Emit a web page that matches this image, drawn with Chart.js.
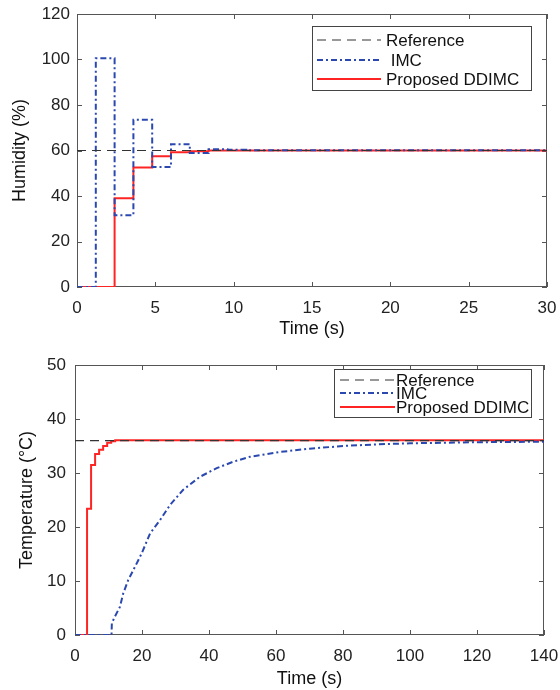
<!DOCTYPE html>
<html>
<head>
<meta charset="utf-8">
<script src="https://cdn.jsdelivr.net/npm/chart.js@4/dist/chart.umd.min.js"></script>
<style>
  body { margin: 0; background: #fff; width: 560px; height: 690px; overflow: hidden; }
  canvas { position: absolute; left: 0; }
</style>
</head>
<body>
<canvas id="hum" width="560" height="340" style="top:0"></canvas>
<canvas id="temp" width="560" height="350" style="top:340px"></canvas>
<script>
// humidity chart (top)
var humNames = ['Reference', ' IMC', 'Proposed DDIMC'];
var humRefTime = [0, 30];
var humRef = [60, 60];
var humImcTime = [0, 1.2, 2.4, 3.6, 4.8, 6.0, 7.2, 8.4, 9.6, 10.8, 30];
var humImc = [0, 100.5, 31.5, 73.5, 52.7, 62.8, 58.9, 60.5, 60.3, 60.1, 60.1];
var humDdTime = [0, 2.4, 3.6, 4.8, 6.0, 7.2, 8.4, 30];
var humDd = [0, 39, 52.5, 57.5, 59.2, 59.7, 60, 60];

// temperature chart (bottom)
var tempNames = ['Reference', 'IMC', 'Proposed DDIMC'];
var tempRefTime = [0, 140];
var tempRef = [36, 36];
var tempImcTime = [0, 10.9, 11.0, 11.9, 13.4, 14.4, 15.9, 17.4, 19.9, 22.4, 25.4, 28.4, 32.3, 37.3, 42.3, 47.3, 52.2, 61.2, 70, 80, 90, 100, 110, 120, 130, 140];
var tempImc = [0, 0, 2.2, 3.4, 5.2, 7.7, 10.2, 12.0, 15.1, 18.8, 21.3, 24.1, 26.9, 29.3, 30.9, 32.1, 33.0, 33.9, 34.5, 35.0, 35.3, 35.5, 35.6, 35.7, 35.75, 35.8];
var tempDdTime = [0, 3.6, 4.8, 6.0, 7.2, 8.4, 9.6, 10.8, 12, 140];
var tempDd = [0, 23.4, 31.5, 33.5, 34.3, 35.0, 35.6, 35.9, 36.05, 36.05];

function pts(xs, ys) {
  return xs.map(function (x, i) { return { x: x, y: ys[i] }; });
}

// matlab-like box with inward ticks on all sides
var frame = {
  id: 'frame',
  beforeDatasetsDraw: function (chart) {
    var a = chart.chartArea, ctx = chart.ctx;
    ctx.save();
    ctx.strokeStyle = '#555';
    ctx.lineWidth = 1;
    ctx.strokeRect(a.left + 0.5, a.top + 0.5, a.right - a.left - 1, a.bottom - a.top - 1);
    ctx.beginPath();
    chart.scales.x.ticks.forEach(function (t) {
      var px = Math.round(chart.scales.x.getPixelForValue(t.value)) + 0.5;
      ctx.moveTo(px, a.bottom); ctx.lineTo(px, a.bottom - 5);
      ctx.moveTo(px, a.top); ctx.lineTo(px, a.top + 5);
    });
    chart.scales.y.ticks.forEach(function (t) {
      var py = Math.round(chart.scales.y.getPixelForValue(t.value)) + 0.5;
      ctx.moveTo(a.left, py); ctx.lineTo(a.left + 5, py);
      ctx.moveTo(a.right, py); ctx.lineTo(a.right - 5, py);
    });
    ctx.stroke();
    ctx.restore();
  }
};

var boxLegend = {
  id: 'boxLegend',
  afterDraw: function (chart, args, o) {
    var a = chart.chartArea, ctx = chart.ctx;
    var bx = a.right - o.dx - o.w, by = a.top + o.dy;
    ctx.save();
    ctx.fillStyle = '#fff';
    ctx.fillRect(bx, by, o.w, o.h);
    ctx.strokeStyle = '#444';
    ctx.lineWidth = 1;
    ctx.strokeRect(bx + 0.5, by + 0.5, o.w, o.h);
    ctx.font = '17px "Liberation Sans", Arial, sans-serif';
    ctx.textBaseline = 'middle';
    chart.data.datasets.forEach(function (ds, i) {
      var y = by + o.rows[i];
      ctx.strokeStyle = ds.borderColor;
      ctx.lineWidth = ds.borderWidth;
      ctx.setLineDash(ds.borderDash || []);
      ctx.beginPath();
      ctx.moveTo(bx + o.lineX, y);
      ctx.lineTo(bx + o.lineX + o.lineLen, y);
      ctx.stroke();
      ctx.setLineDash([]);
      ctx.fillStyle = '#111';
      ctx.fillText(ds.label, bx + o.textX, y + 1);
    });
    ctx.restore();
  }
};

function makeChart(id, cfg) {
  var tickFont = { family: '"Liberation Sans", Arial, sans-serif', size: 17 };
  var titleFont = { family: '"Liberation Sans", Arial, sans-serif', size: 18 };
  return new Chart(id, {
    type: 'line',
    data: {
      datasets: [
        { label: cfg.names[0], data: pts(cfg.refT, cfg.ref), borderColor: '#333', borderWidth: 1.2, borderDash: [9, 6], pointRadius: 0 },
        { label: cfg.names[1], data: pts(cfg.imcT, cfg.imc), borderColor: '#2a48b0', borderWidth: 2, borderDash: [6, 3, 2, 3], pointRadius: 0, stepped: cfg.stepImc },
        { label: cfg.names[2], data: pts(cfg.ddT, cfg.dd), borderColor: '#ff2424', borderWidth: 2, pointRadius: 0, stepped: true }
      ]
    },
    options: {
      responsive: false,
      animation: false,
      devicePixelRatio: 1,
      layout: { padding: cfg.pad },
      plugins: {
        legend: { display: false },
        tooltip: { enabled: false },
        boxLegend: cfg.legend
      },
      scales: {
        x: {
          type: 'linear', min: 0, max: cfg.xMax,
          grid: { display: false, drawTicks: false },
          border: { display: false },
          ticks: { stepSize: cfg.xStep, color: '#222', font: tickFont, padding: 11, maxRotation: 0 },
          title: { display: true, text: 'Time (s)', color: '#111', font: titleFont, padding: 0 },
          afterFit: function (s) { s.height = cfg.xH; s.paddingLeft = 0; s.paddingRight = 0; }
        },
        y: {
          min: 0, max: cfg.yMax,
          grid: { display: false, drawTicks: false },
          border: { display: false },
          ticks: { stepSize: cfg.yStep, color: '#222', font: tickFont, padding: cfg.yPad },
          title: { display: true, text: cfg.yTitle, color: '#111', font: titleFont, padding: 0 },
          afterFit: function (s) { s.width = cfg.yW; s.paddingTop = 0; s.paddingBottom = 0; }
        }
      }
    },
    plugins: [frame, boxLegend]
  });
}

makeChart('hum', {
  names: humNames,
  refT: humRefTime, ref: humRef, imcT: humImcTime, imc: humImc, ddT: humDdTime, dd: humDd,
  stepImc: true,
  xMax: 30, xStep: 5, yMax: 120, yStep: 20, yTitle: 'Humidity (%)',
  pad: { left: 9, right: 13, top: 14, bottom: 0 }, xH: 53, yW: 68, yPad: 7,
  legend: { dx: 16, dy: 12, w: 219, h: 64, rows: [14, 34, 53], lineX: 5, lineLen: 64, textX: 74 }
});

makeChart('temp', {
  names: tempNames,
  refT: tempRefTime, ref: tempRef, imcT: tempImcTime, imc: tempImc, ddT: tempDdTime, dd: tempDd,
  stepImc: false,
  xMax: 140, xStep: 20, yMax: 50, yStep: 10, yTitle: 'Temperature (°C)',
  pad: { left: 16, right: 16, top: 25, bottom: 0 }, xH: 55, yW: 59, yPad: 9,
  legend: { dx: 13, dy: 4, w: 197, h: 48, rows: [11, 24, 38], lineX: 6, lineLen: 55, textX: 62 }
});
</script>
</body>
</html>
